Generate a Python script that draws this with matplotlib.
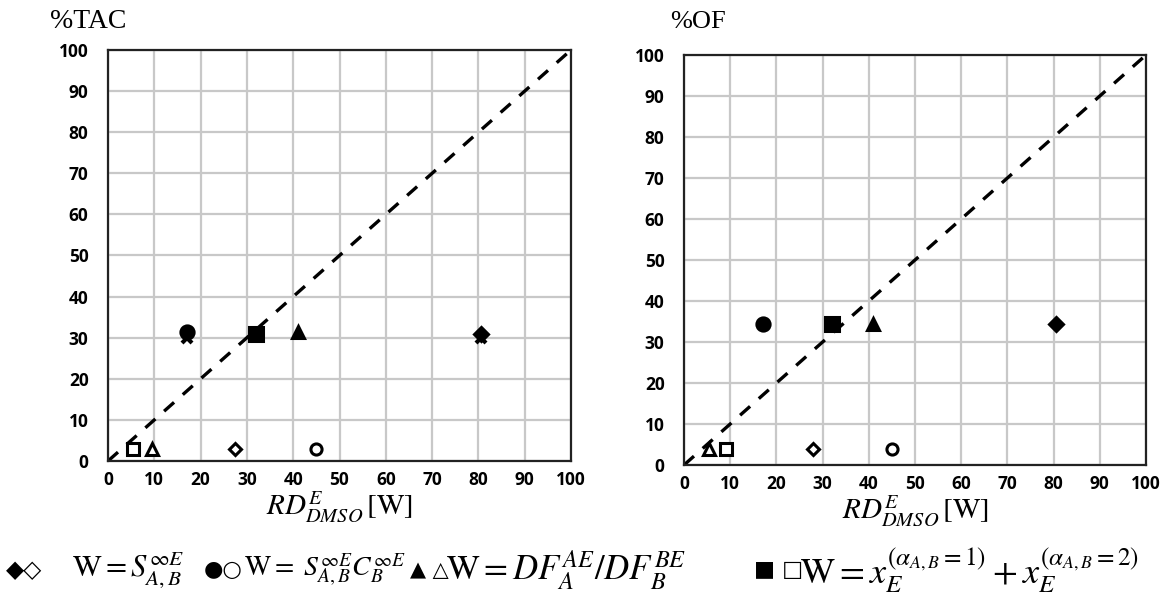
import matplotlib
matplotlib.use("Agg")
import matplotlib.pyplot as plt

plt.rcParams['mathtext.fontset'] = 'stix'

# Data: %TAC panel
tac_filled_diamond = ([80.5], [31.0])
tac_open_diamond = ([27.5], [3.0])
tac_filled_circle = ([17.0], [31.5])
tac_open_circle = ([45.0], [3.0])
tac_filled_triangle = ([41.0], [31.5])
tac_open_triangle = ([9.5], [3.0])
tac_filled_square = ([32.0], [31.0])
tac_open_square = ([5.5], [3.0])
tac_cross = ([17.0, 80.5], [30.0, 30.0])

# Data: %OF panel
of_filled_diamond = ([80.5], [34.5])
of_open_diamond = ([28.0], [4.0])
of_filled_circle = ([17.0], [34.5])
of_open_circle = ([45.0], [4.0])
of_filled_triangle = ([41.0], [34.5])
of_open_triangle = ([5.5], [4.0])
of_filled_square = ([32.0], [34.5])
of_open_square = ([9.0], [4.0])

ticks = list(range(0, 101, 10))
titles = ["%TAC", "%OF"]
xlabel = r"$RD^{E}_{DMSO}\,[\mathrm{W}]$"

fig = plt.figure(figsize=(11.67, 6.05), dpi=100)
ax1 = fig.add_axes([108/1167, 1-461/605, (571-108)/1167, (461-50)/605])
ax2 = fig.add_axes([684/1167, 1-465/605, (1146-684)/1167, (465-55)/605])

def style(ax):
    ax.set_xlim(0, 100)
    ax.set_ylim(0, 100)
    ax.set_xticks(ticks)
    ax.set_yticks(ticks)
    ax.grid(True, color='#c8c8c8', linewidth=1.6)
    ax.set_axisbelow(True)
    for s in ax.spines.values():
        s.set_linewidth(1.6)
        s.set_color('#222222')
    ax.tick_params(axis='y', length=0, pad=14)
    ax.tick_params(axis='x', length=0, pad=7)
    for lab in ax.get_xticklabels() + ax.get_yticklabels():
        lab.set_fontfamily('Open Sans')
        lab.set_fontweight('bold')
        lab.set_fontsize(12.5)
    ax.set_xlabel(xlabel, fontsize=21, labelpad=0)
    ax.plot([0, 100], [0, 100], color='black', linestyle=(0, (4, 3.5)), linewidth=2.4, zorder=2)

style(ax1)
style(ax2)
fig.text(50/1167, 1-22/605, titles[0], family='Liberation Serif', fontsize=20, va='center', ha='left')
fig.text(670/1167, 1-22/605, titles[1], family='Liberation Serif', fontsize=19, va='center', ha='left')

def pts(ax, d, marker, filled, size):
    ax.plot(d[0], d[1], linestyle='none', marker=marker, markersize=size,
            markerfacecolor='black' if filled else 'white', markeredgecolor='black',
            markeredgewidth=2.2, zorder=5, clip_on=False)

for ax, fd, od, fc, oc, ft, ot, fs, os_ in [
    (ax1, tac_filled_diamond, tac_open_diamond, tac_filled_circle, tac_open_circle,
     tac_filled_triangle, tac_open_triangle, tac_filled_square, tac_open_square),
    (ax2, of_filled_diamond, of_open_diamond, of_filled_circle, of_open_circle,
     of_filled_triangle, of_open_triangle, of_filled_square, of_open_square)]:
    pts(ax, fd, 'D', True, 7)
    pts(ax, od, 'D', False, 6.5)
    pts(ax, fc, 'o', True, 9.5)
    pts(ax, oc, 'o', False, 8)
    pts(ax, ft, '^', True, 9)
    pts(ax, ot, '^', False, 8)
    pts(ax, fs, 's', True, 9.5)
    pts(ax, os_, 's', False, 8)

ax1.plot(tac_cross[0], tac_cross[1], linestyle='none', marker='x', markersize=7,
         markeredgewidth=3, color='black', zorder=4)

# Legend row
ly = 1 - 570/605
fig.text(6/1167, ly, "\u25c6\u25c7", family='DejaVu Sans', fontsize=17, va='center')
fig.text(72/1167, ly, r"$\mathrm{W} = S^{\infty E}_{A,B}$", fontsize=22, va='center')
fig.text(204/1167, ly, "\u25cf\u25cb", family='DejaVu Sans', fontsize=16, va='center')
fig.text(244/1167, ly, r"$\mathrm{W} =\ S^{\infty E}_{A,B}C^{\infty E}_{B}$", fontsize=20, va='center')
fig.text(410/1167, ly, "\u25b2 \u25b3", family='DejaVu Sans', fontsize=15, va='center')
fig.text(446/1167, ly, r"$\mathrm{W} = DF^{AE}_{A}/DF^{BE}_{B}$", fontsize=25, va='center')
fig.text(754/1167, ly, "\u25a0 \u25a1", family='DejaVu Sans', fontsize=16, va='center')
fig.text(800/1167, ly, r"$\mathrm{W} = x_E^{(\alpha_{A,B}=1)} + x_E^{(\alpha_{A,B}=2)}$", fontsize=26, va='center')

fig.savefig("out.png", dpi=100)
